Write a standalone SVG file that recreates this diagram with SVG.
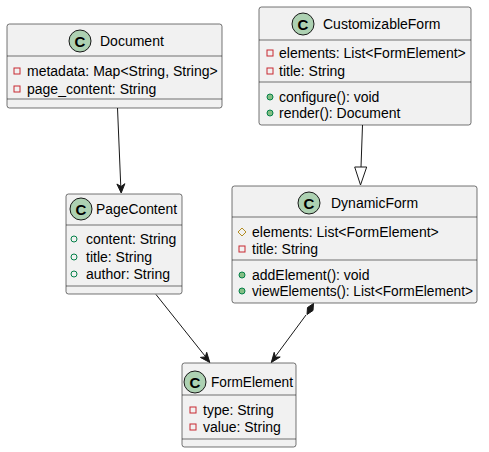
<svg xmlns="http://www.w3.org/2000/svg" width="489" height="452" viewBox="0 0 489 452">
  <defs>
    <style>
      .box { fill: #F1F1F1; stroke: #181818; stroke-width: 0.6; }
      .sep { stroke: #181818; stroke-width: 0.6; }
      .badge { fill: #ADD1B2; stroke: #181818; stroke-width: 1; }
      .badge-c { font-family: "Liberation Sans", Arial, sans-serif; font-size: 15px; font-weight: bold; fill: #000; text-anchor: middle; }
      .name { font-family: "Liberation Sans", Arial, sans-serif; font-size: 14px; fill: #000; }
      .member { font-family: "Liberation Sans", Arial, sans-serif; font-size: 14px; fill: #000; }
      .priv { fill: none; stroke: #C82930; stroke-width: 1; }
      .prot { fill: none; stroke: #B38D22; stroke-width: 1; }
      .pubf { fill: none; stroke: #038048; stroke-width: 1; }
      .pubm { fill: #84BE84; stroke: #038048; stroke-width: 1; }
      .edge { stroke: #181818; stroke-width: 1; fill: none; }
      .head { fill: #181818; stroke: #181818; stroke-width: 1; }
      .hollow { fill: #FFFFFF; stroke: #181818; stroke-width: 1; }
    </style>
  </defs>

  <!-- connectors -->
  <g id="connectors">
    <!-- Document to PageContent, plain association arrow -->
    <path class="edge" d="M117.5,108 L121,192"/>
    <polygon class="head" points="121.2,193 116.9,184 121,186.5 124.9,183.7"/>
    <!-- PageContent to FormElement -->
    <path class="edge" d="M156,294.5 L209,361"/>
    <polygon class="head" points="209.8,362.5 200.4,357.4 205.3,356.9 206.7,352.3"/>
    <!-- DynamicForm composition of FormElement -->
    <path class="edge" d="M306,315 L272,361"/>
    <polygon class="head" points="313.5,303.5 313,310.5 307,314.5 307.5,307.5"/>
    <polygon class="head" points="271.3,362.5 274.2,352.3 275.4,357.1 280.2,357"/>
    <!-- DynamicForm extends CustomizableForm -->
    <path class="edge" d="M362.5,125 L361,167"/>
    <polygon class="hollow" points="354.7,167 366.7,167 360.5,185"/>
  </g>

  <!-- Document -->
  <g id="Document">
    <rect class="box" x="7" y="24" width="215" height="84" rx="2.5"/>
    <circle class="badge" cx="80" cy="41" r="11"/>
    <text class="badge-c" x="80" y="46.5">C</text>
    <text class="name" x="100" y="46">Document</text>
    <line class="sep" x1="7" y1="56" x2="222" y2="56"/>
    <rect class="priv" x="14" y="68" width="6" height="6"/>
    <text class="member" x="27" y="76">metadata: Map&lt;String, String&gt;</text>
    <rect class="priv" x="14" y="86" width="6" height="6"/>
    <text class="member" x="27" y="94">page_content: String</text>
    <line class="sep" x1="7" y1="99" x2="222" y2="99"/>
  </g>

  <!-- CustomizableForm -->
  <g id="CustomizableForm">
    <rect class="box" x="259" y="7" width="212" height="118" rx="2.5"/>
    <circle class="badge" cx="303" cy="24" r="11"/>
    <text class="badge-c" x="303" y="29.5">C</text>
    <text class="name" x="323" y="29">CustomizableForm</text>
    <line class="sep" x1="259" y1="40" x2="471" y2="40"/>
    <rect class="priv" x="267" y="50" width="6" height="6"/>
    <text class="member" x="279" y="58">elements: List&lt;FormElement&gt;</text>
    <rect class="priv" x="267" y="68" width="6" height="6"/>
    <text class="member" x="279" y="76">title: String</text>
    <line class="sep" x1="259" y1="82" x2="471" y2="82"/>
    <circle class="pubm" cx="270" cy="97" r="3"/>
    <text class="member" x="279" y="102">configure(): void</text>
    <circle class="pubm" cx="270" cy="113" r="3"/>
    <text class="member" x="279" y="118">render(): Document</text>
  </g>

  <!-- DynamicForm -->
  <g id="DynamicForm">
    <rect class="box" x="232" y="186" width="245" height="117" rx="2.5"/>
    <circle class="badge" cx="309" cy="203" r="11"/>
    <text class="badge-c" x="309" y="208.5">C</text>
    <text class="name" x="331" y="208">DynamicForm</text>
    <line class="sep" x1="232" y1="217" x2="477" y2="217"/>
    <polygon class="prot" points="242,228 246,232 242,236 238,232"/>
    <text class="member" x="252" y="237">elements: List&lt;FormElement&gt;</text>
    <rect class="priv" x="239" y="246" width="6" height="6"/>
    <text class="member" x="252" y="254">title: String</text>
    <line class="sep" x1="232" y1="260" x2="477" y2="260"/>
    <circle class="pubm" cx="242" cy="275" r="3"/>
    <text class="member" x="252" y="280">addElement(): void</text>
    <circle class="pubm" cx="242" cy="291" r="3"/>
    <text class="member" x="252" y="296" textLength="221" lengthAdjust="spacingAndGlyphs">viewElements(): List&lt;FormElement&gt;</text>
  </g>

  <!-- PageContent -->
  <g id="PageContent">
    <rect class="box" x="66" y="194" width="116" height="100" rx="2.5"/>
    <circle class="badge" cx="81" cy="209" r="11"/>
    <text class="badge-c" x="81" y="214.5">C</text>
    <text class="name" x="96" y="214" textLength="81" lengthAdjust="spacingAndGlyphs">PageContent</text>
    <line class="sep" x1="66" y1="225" x2="182" y2="225"/>
    <circle class="pubf" cx="74" cy="239" r="3"/>
    <text class="member" x="86" y="244">content: String</text>
    <circle class="pubf" cx="74" cy="257" r="3"/>
    <text class="member" x="86" y="262">title: String</text>
    <circle class="pubf" cx="74" cy="274" r="3"/>
    <text class="member" x="86" y="279">author: String</text>
    <line class="sep" x1="66" y1="286" x2="182" y2="286"/>
  </g>

  <!-- FormElement -->
  <g id="FormElement">
    <rect class="box" x="182" y="363" width="114" height="84" rx="2.5"/>
    <circle class="badge" cx="195" cy="382" r="11"/>
    <text class="badge-c" x="195" y="387.5">C</text>
    <text class="name" x="211" y="387" textLength="82" lengthAdjust="spacingAndGlyphs">FormElement</text>
    <line class="sep" x1="182" y1="395" x2="296" y2="395"/>
    <rect class="priv" x="190" y="407" width="6" height="6"/>
    <text class="member" x="203" y="415">type: String</text>
    <rect class="priv" x="190" y="424" width="6" height="6"/>
    <text class="member" x="203" y="432">value: String</text>
    <line class="sep" x1="182" y1="439" x2="296" y2="439"/>
  </g>
</svg>
